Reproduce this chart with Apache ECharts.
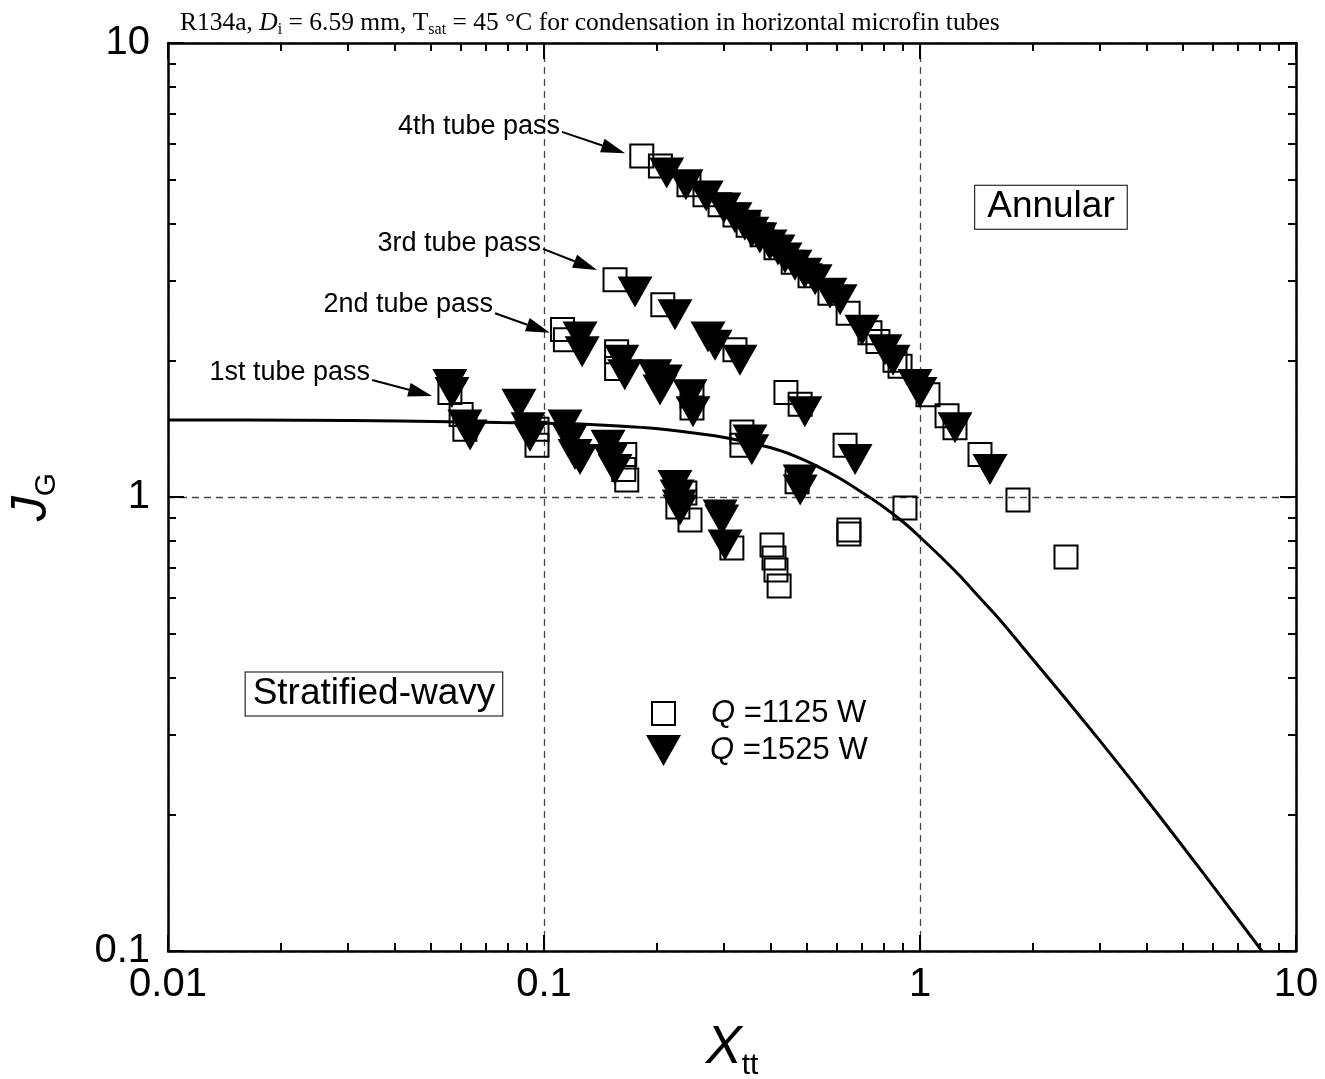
<!DOCTYPE html>
<html>
<head>
<meta charset="utf-8">
<script src="https://cdn.jsdelivr.net/npm/echarts@6/dist/echarts.min.js"></script>
<style>
  html, body { margin: 0; padding: 0; background: #fff; }
  #chart { width: 1325px; height: 1079px; }
</style>
</head>
<body>
<div id="chart"></div>
<script>
// Tick labels of the two logarithmic axes
const xTickLabels = ['0.01', '0.1', '1', '10'];
const yTickLabels = ['0.1', '1', '10'];

// Q = 1125 W (open squares): Martinelli parameter X_tt and dimensionless gas velocity J_G
const q1125X = [0.182, 0.204, 0.243, 0.268, 0.294, 0.322, 0.349, 0.380, 0.414, 0.460, 0.510, 0.576,
  0.644, 0.736, 0.773, 0.858, 0.885, 1.050, 1.180, 1.239, 1.444, 1.822, 2.445,
  0.1545, 0.207, 0.322, 0.440, 0.480, 0.632, 0.912, 0.647, 0.647,
  0.112, 0.114, 0.156, 0.156, 0.2475, 0.2475, 0.336, 0.336,
  0.0562, 0.0602, 0.0616, 0.0958, 0.0958, 0.164, 0.163, 0.166, 0.237, 0.227, 0.2445,
  0.316, 0.404, 0.409, 0.414, 0.422, 0.471];
const q1125J = [5.64, 5.36, 4.87, 4.63, 4.40, 4.18, 3.97, 3.78, 3.54, 3.29, 3.07, 2.81,
  2.54, 2.30, 2.20, 2.00, 1.94, 1.68, 1.51, 1.42, 1.24, 0.985, 0.738,
  3.01, 2.65, 2.11, 1.70, 1.60, 1.30, 0.946, 0.846, 0.829,
  2.34, 2.22, 2.09, 1.92, 1.67, 1.57, 1.39, 1.30,
  1.70, 1.52, 1.41, 1.41, 1.30, 1.24, 1.15, 1.09, 1.02, 0.950, 0.890,
  0.772, 0.784, 0.734, 0.691, 0.637, 1.08];

// Q = 1525 W (filled down triangles)
const q1525X = [0.212, 0.2385, 0.270, 0.301, 0.322, 0.342, 0.357, 0.375, 0.399, 0.419, 0.4375, 0.465,
  0.494, 0.526, 0.576, 0.613, 0.701, 0.807, 0.8475, 0.970, 1.00, 1.239, 1.535,
  0.1746, 0.223, 0.273, 0.285, 0.332, 0.494, 0.672,
  0.1247, 0.1263, 0.161, 0.164, 0.197, 0.210, 0.2035, 0.2445, 0.249, 0.353, 0.357, 0.480, 0.480,
  0.0562, 0.0569, 0.0616, 0.0636, 0.0858, 0.0907, 0.0918, 0.1137, 0.1172, 0.1209, 0.1247,
  0.148, 0.150, 0.1545, 0.223, 0.226, 0.229, 0.230, 0.294, 0.297, 0.303];
const q1525J = [5.17, 4.87, 4.60, 4.33, 4.12, 3.97, 3.83, 3.72, 3.59, 3.50, 3.36, 3.24,
  3.11, 3.01, 2.81, 2.72, 2.33, 2.11, 2.00, 1.77, 1.70, 1.42, 1.15,
  2.83, 2.52, 2.25, 2.16, 2.00, 1.54, 1.21,
  2.25, 2.09, 2.00, 1.86, 1.86, 1.81, 1.72, 1.68, 1.54, 1.335, 1.27, 1.09, 1.036,
  1.77, 1.70, 1.44, 1.37, 1.60, 1.42, 1.36, 1.44, 1.335, 1.24, 1.21,
  1.30, 1.21, 1.15, 1.06, 1.01, 0.960, 0.936, 0.913, 0.890, 0.784];

// Stratified-wavy / annular transition line
const transX = [0.01, 0.02244, 0.0414, 0.07636, 0.1103, 0.1409, 0.1913, 0.2445, 0.3124, 0.3993,
  0.4651, 0.5321, 0.6127, 0.7054, 0.8071, 0.9123, 1.0123, 1.1303, 1.2777, 1.4441, 1.6322,
  1.9613, 2.3574, 3.011, 4.0898, 5.5557, 8.122];
const transJ = [1.478, 1.476, 1.470, 1.459, 1.452, 1.441, 1.419, 1.387, 1.346, 1.285,
  1.231, 1.170, 1.098, 1.020, 0.9457, 0.8743, 0.8082, 0.7413, 0.6699, 0.5991, 0.5358,
  0.4466, 0.3720, 0.2902, 0.2108, 0.1516, 0.100];

// Tube pass annotations: text anchor (right end), arrow tail, arrow head
const passNames = ['1st tube pass', '2nd tube pass', '3rd tube pass', '4th tube pass'];
const passTextAt = [[0.03446, 1.876], [0.0732, 2.648], [0.0982, 3.608], [0.1103, 6.55]];
const passFrom = [[0.0349, 1.81], [0.0741, 2.54], [0.0994, 3.52], [0.1116, 6.37]];
const passTo = [[0.0504, 1.67], [0.1037, 2.30], [0.1383, 3.162], [0.1643, 5.72]];

// Flow regime labels
const regimeNames = ['Annular', 'Stratified-wavy'];
const regimeAt = [[2.23, 4.35], [0.0353, 0.368]];

const seriesNames = ['Q =1125 W', 'Q =1525 W'];

const pairs = (xs, ys) => xs.map((x, i) => [x, ys[i]]);
const tickFont = "'Liberation Sans Narrow', 'Arial Narrow', 'Liberation Sans', sans-serif";
const sansFont = "'Liberation Sans', Arial, sans-serif";
const serifFont = "'Liberation Serif', 'Times New Roman', serif";
const downTriangle = 'path://M0,0L34,0L17,30Z';
// Frame padding of each regime label box [vertical, horizontal]
const regimeBoxPadding = { 'Annular': [3, 12], 'Stratified-wavy': [3, 7] };

function logAxis(position, min, max, extra) {
  return Object.assign({
    type: 'log', logBase: 10, min: min, max: max, position: position,
    axisLine: { show: true, onZero: false, lineStyle: { color: '#000', width: 2.5 } },
    axisTick: { show: true, inside: true, length: 16, lineStyle: { color: '#000', width: 2 } },
    minorTick: { show: true, splitNumber: 9, length: 8, lineStyle: { color: '#000', width: 2 } },
    axisLabel: { show: false },
    splitLine: { show: false }
  }, extra || {});
}

const dashed = { show: true, lineStyle: { color: '#444', width: 1.3, type: [7, 5] } };

const legendRich = {
  q: { fontFamily: sansFont, fontSize: 31, fontStyle: 'italic', color: '#000' },
  n: { fontFamily: sansFont, fontSize: 31, color: '#000' }
};
const legendText = name => '{s| }{q|Q}{n|' + name.slice(1) + '}';

const titleRich = {
  a: { fontFamily: serifFont, fontSize: 25.5, fontWeight: 'normal', color: '#000', lineHeight: 30, verticalAlign: 'middle' },
  i: { fontFamily: serifFont, fontSize: 25.5, fontWeight: 'normal', fontStyle: 'italic', color: '#000', lineHeight: 30, verticalAlign: 'middle' },
  s: { fontFamily: serifFont, fontSize: 16, fontWeight: 'normal', color: '#000', lineHeight: 16, verticalAlign: 'bottom' }
};

const option = {
  animation: false,
  backgroundColor: '#fff',
  title: {
    left: 175, top: 3,
    text: '{a|R134a, }{i|D}{s|i}{a| = 6.59 mm, T}{s|sat}{a| = 45 °C for condensation in horizontal microfin tubes}',
    textStyle: { fontWeight: 'normal', rich: titleRich }
  },
  grid: { left: 168, right: 29, top: 43, bottom: 128, containLabel: false, outerBoundsMode: 'none' },
  xAxis: [
    logAxis('bottom', 0.01, 10, {
      axisLabel: {
        show: true, fontFamily: tickFont, fontSize: 40, color: '#000', margin: 14,
        formatter: v => xTickLabels[Math.round(Math.log10(v)) + 2]
      },
      splitLine: dashed,
      name: '{x|X}{t|tt}', nameLocation: 'middle', nameGap: 64,
      nameTextStyle: {
        rich: {
          x: { fontFamily: sansFont, fontSize: 54, fontStyle: 'italic', color: '#000', lineHeight: 66, verticalAlign: 'middle' },
          t: { fontFamily: sansFont, fontSize: 30, color: '#000', lineHeight: 30, verticalAlign: 'bottom' }
        }
      }
    }),
    logAxis('top', 0.01, 10)
  ],
  yAxis: [
    logAxis('left', 0.1, 10, {
      axisLabel: {
        show: true, fontFamily: tickFont, fontSize: 40, color: '#000', margin: 18,
        formatter: v => yTickLabels[Math.round(Math.log10(v)) + 1]
      },
      splitLine: dashed,
      name: '{j|J}{g|G}', nameLocation: 'middle', nameRotate: 90, nameGap: 106,
      nameTextStyle: {
        rich: {
          j: { fontFamily: sansFont, fontSize: 50, fontStyle: 'italic', color: '#000', lineHeight: 60, verticalAlign: 'middle' },
          g: { fontFamily: sansFont, fontSize: 30, color: '#000', lineHeight: 28, verticalAlign: 'bottom' }
        }
      }
    }),
    logAxis('right', 0.1, 10)
  ],
  legend: [
    {
      data: [{ name: seriesNames[0], icon: 'rect' }],
      left: 651, top: 698, padding: 0, itemWidth: 23, itemHeight: 23, selectedMode: false,
      itemStyle: { color: 'rgba(0,0,0,0)', borderColor: '#000', borderWidth: 2 },
      formatter: legendText,
      textStyle: { rich: Object.assign({ s: { width: 31, fontSize: 31 } }, legendRich) }
    },
    {
      data: [{ name: seriesNames[1], icon: downTriangle }],
      left: 646, top: 735, padding: 0, itemWidth: 35, itemHeight: 31, selectedMode: false,
      itemStyle: { color: '#000', borderWidth: 0 },
      formatter: legendText,
      textStyle: { rich: Object.assign({ s: { width: 24, fontSize: 31 } }, legendRich) }
    }
  ],
  series: [
    {
      name: 'transition', type: 'line', data: pairs(transX, transJ),
      showSymbol: false, smooth: 0.35, silent: true, z: 1,
      lineStyle: { color: '#000', width: 3 }
    },
    {
      name: seriesNames[0], type: 'scatter', data: pairs(q1125X, q1125J), z: 2,
      symbol: 'rect', symbolSize: 23,
      itemStyle: { color: 'rgba(0,0,0,0)', borderColor: '#000', borderWidth: 2, opacity: 1 }
    },
    {
      name: seriesNames[1], type: 'scatter', data: pairs(q1525X, q1525J), z: 3,
      symbol: downTriangle, symbolSize: [35, 31],
      itemStyle: { color: '#000', opacity: 1 }
    }
  ]
};

const chart = echarts.init(document.getElementById('chart'));
chart.setOption(option);

// Annotations placed in data coordinates
const toPx = p => chart.convertToPixel({ xAxisIndex: 0, yAxisIndex: 0 }, p);
const graphics = [];
passNames.forEach((name, i) => {
  const t = toPx(passTextAt[i]);
  graphics.push({
    type: 'text', x: t[0], y: t[1], z: 10,
    style: { text: name, fontFamily: sansFont, fontSize: 27, fill: '#000', align: 'right', verticalAlign: 'middle' }
  });
  const a = toPx(passFrom[i]), b = toPx(passTo[i]);
  const ang = Math.atan2(b[1] - a[1], b[0] - a[0]);
  const L = 24, W = 7;
  const bx = b[0] - L * Math.cos(ang), by = b[1] - L * Math.sin(ang);
  const nx = -Math.sin(ang), ny = Math.cos(ang);
  graphics.push({
    type: 'line', z: 10, shape: { x1: a[0], y1: a[1], x2: bx, y2: by },
    style: { stroke: '#000', lineWidth: 2 }
  });
  graphics.push({
    type: 'polygon', z: 10,
    shape: { points: [[b[0], b[1]], [bx + nx * W, by + ny * W], [bx - nx * W, by - ny * W]] },
    style: { fill: '#000' }
  });
});
regimeNames.forEach((name, i) => {
  const c = toPx(regimeAt[i]);
  const pad = regimeBoxPadding[name];
  graphics.push({
    type: 'text', x: c[0], y: c[1], z: 10,
    style: {
      text: name, fontFamily: sansFont, fontSize: 37, fill: '#000', align: 'center', verticalAlign: 'middle',
      backgroundColor: '#fff', borderColor: '#000', borderWidth: 1, padding: [pad[0], pad[1], pad[0], pad[1]]
    }
  });
});
chart.setOption({ graphic: graphics });
</script>
</body>
</html>
